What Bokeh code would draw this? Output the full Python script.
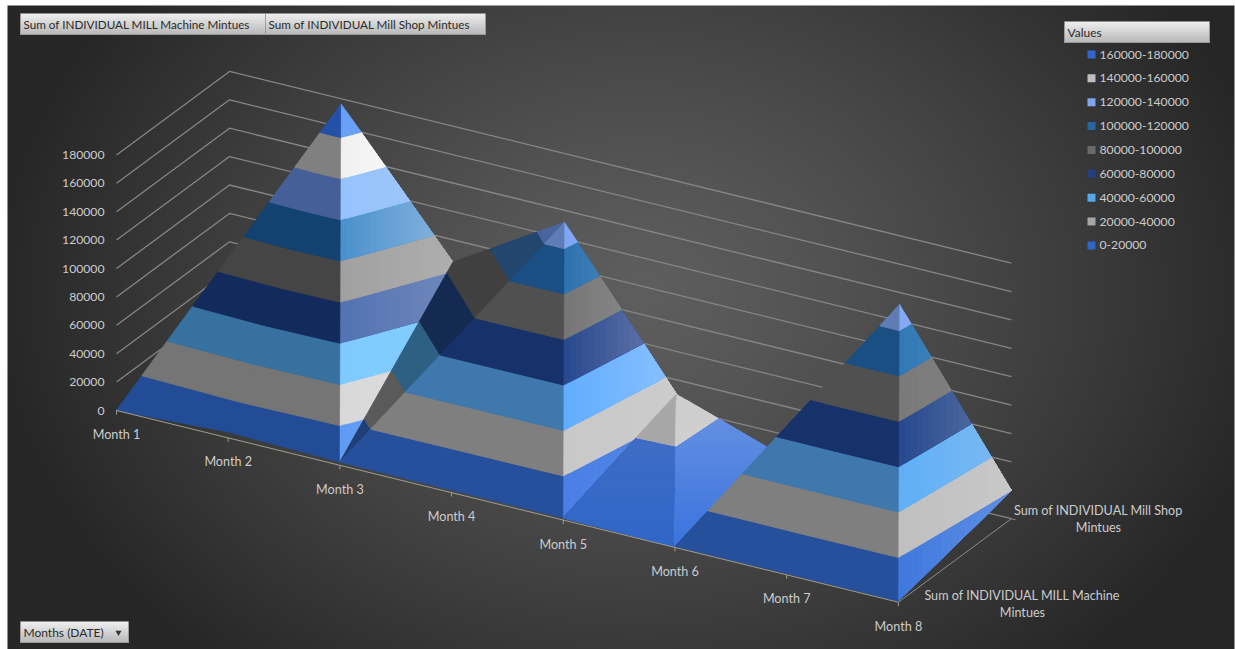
import numpy as np
from bokeh.core.properties import value
from bokeh.embed import file_html
from bokeh.models import Range1d
from bokeh.plotting import figure
from bokeh.resources import INLINE

# ---- data ----
months = ["Month 1", "Month 2", "Month 3", "Month 4", "Month 5", "Month 6", "Month 7", "Month 8"]
machine_minutes = [0, 4200, 2300, 1900, 1600, 700, 1000, 700]
shop_minutes = [0, 176300, 84200, 131600, 30000, 3000, 131500, 19800]
value_ticks = [0, 20000, 40000, 60000, 80000, 100000, 120000, 140000, 160000, 180000]
series_label_lines = {
    "machine": ["Sum of INDIVIDUAL MILL Machine", "Mintues"],
    "shop": ["Sum of INDIVIDUAL Mill Shop", "Mintues"],
}
legend_labels = ["160000-180000", "140000-160000", "120000-140000", "100000-120000", "80000-100000",
                 "60000-80000", "40000-60000", "20000-40000", "0-20000"]
legend_colors = ["#2F66C8", "#BEBEBE", "#7FA6EC", "#26659F", "#6A6A6A", "#22407F", "#55A8EA", "#A5A5A5", "#2F66C8"]

BAND = 20000
W, H = 1235, 649
FONT = value("Lato")
TEXT = "#CCCCCC"

# oblique projection of (month index, depth 0..1, minutes) to page pixels, y growing downward
ORIGIN = (116.0, 410.0)
MONTH_STEP = (111.7, 27.39)
DEPTH_STEP = (113.0, -83.5)
PX_PER_MINUTE = 28.4 / BAND


def project(m, d, v=0.0):
    return (ORIGIN[0] + MONTH_STEP[0] * m + DEPTH_STEP[0] * d,
            ORIGIN[1] + MONTH_STEP[1] * m + DEPTH_STEP[1] * d - v * PX_PER_MINUTE)


def fy(y):
    return H - np.asarray(y, dtype=float)


p = figure(width=W, height=H, output_backend="svg", toolbar_location=None,
           x_range=Range1d(0, W), y_range=Range1d(0, H), min_border=0,
           background_fill_color="white", border_fill_color="white")
p.axis.visible = False
p.grid.visible = False
p.outline_line_color = None

# ---- dark vignette backdrop ----
bx0, by0 = 7, 5
bw, bh = W - bx0 - 1, H - by0
yy, xx = np.mgrid[0:bh, 0:bw]
page_y = by0 + bh - 1 - yy
page_x = bx0 + xx
r = np.sqrt(((page_x - 640) / 650.0) ** 2 + ((page_y - 290) / 500.0) ** 2)
lum = 0x5E - (0x5E - 0x26) * np.clip(r, 0, 1) ** 1.25
lum = lum.astype(np.uint32)
img = (255 << 24) | (lum << 16) | (lum << 8) | lum
p.image_rgba(image=[img.astype(np.uint32)], x=bx0, y=0, dw=bw, dh=bh)

# ---- walls: gridlines from the left wall round to the back wall ----
wall_x, wall_y = [], []
for t in value_ticks:
    a = project(0, 0, t)
    b = project(0, 1, t)
    c = project(len(months) - 1, 1, t)
    wall_x.append([a[0], b[0], c[0]])
    wall_y.append(list(fy([a[1], b[1], c[1]])))
p.multi_line(wall_x, wall_y, line_color="#868686", line_width=1.3)

# ---- surface ----
LEFT_A = ["#234C96", "#757575", "#37719F", "#132B5C", "#454545", "#134270", "#455F99", "#808080", "#2450A8"]
LEFT_B = ["#26509B", "#7F7F7F", "#3F78AD", "#17316A", "#505050", "#1A4F83", "#5F7CB5", "#808080", "#2450A8"]
RIGHT_A = [("#5F9BF5", "#6AA2F8"), ("#D9D9D9", "#DCDCDC"), ("#7FCBFF", "#82CDFF"), ("#5272B2", "#7088BC"),
           ("#A0A0A0", "#AEAEAE"), ("#4A90CD", "#8AB6DF"), ("#96C3FC", "#A0C8F8"), ("#F0F0F0", "#FFFFFF"),
           ("#6AA0F5", "#6AA0F5")]
RIGHT_B = [("#4A80E6", "#5488E6"), ("#C8C8C8", "#CCCCCC"), ("#60AEFF", "#8AC0FF"), ("#27488E", "#7080AF"),
           ("#767676", "#929292"), ("#2D72AE", "#6298C8"), ("#7FA6F5", "#8CAEF8"), ("#C8C8C8", "#C8C8C8"),
           ("#6AA0F5", "#6AA0F5")]
RIGHT_C = [("#3F78DD", "#6090E4"), ("#C0C0C0", "#C8C8C8"), ("#60AFF7", "#7CBAF2"), ("#27488E", "#5E78A8"),
           ("#7A7A7A", "#858585"), ("#2F78B5", "#5C92C2"), ("#85AAF5", "#8CB0F8"), ("#C8C8C8", "#C8C8C8"),
           ("#6AA0F5", "#6AA0F5")]
SHADOW = ["#1F4076", "#5A5A5A", "#2E6084", "#152A50", "#404040", "#22466E", "#47659F", "#808080", "#2450A8"]
VALLEY_L = [("#4470C4", "#3066C8"), ("#A8A8A8", "#A8A8A8")] + [("#808080", "#808080")] * 7
VALLEY_R = [("#6A94E2", "#3B74DE"), ("#CFCFCF", "#CFCFCF")] + [("#808080", "#808080")] * 7

# triangles of the two-series grid, back to front: vertices are (series, month index)
faces = [
    ((("s", 0), ("m", 0), ("s", 1)), LEFT_A, None),
    ((("m", 0), ("m", 1), ("s", 1)), LEFT_A, None),
    ((("m", 1), ("m", 2), ("s", 1)), LEFT_A, None),
    ((("m", 2), ("s", 2), ("s", 1)), RIGHT_A, "x"),
    ((("m", 2), ("s", 3), ("s", 2)), SHADOW, None),
    ((("m", 2), ("m", 3), ("s", 3)), LEFT_B, None),
    ((("m", 3), ("m", 4), ("s", 3)), LEFT_B, None),
    ((("m", 4), ("s", 4), ("s", 3)), RIGHT_B, "x"),
    ((("m", 4), ("m", 5), ("s", 4)), VALLEY_L, "y"),
    ((("m", 5), ("s", 5), ("s", 4)), VALLEY_R, "y"),
    ((("m", 5), ("s", 6), ("s", 5)), LEFT_B, None),
    ((("m", 5), ("m", 6), ("s", 6)), LEFT_B, None),
    ((("m", 6), ("m", 7), ("s", 6)), LEFT_B, None),
    ((("m", 7), ("s", 7), ("s", 6)), RIGHT_C, "x"),
]


def vertex(ref):
    series, i = ref
    if series == "m":
        v = machine_minutes[i]
        x, y = project(i, 0, v)
    else:
        v = shop_minutes[i]
        x, y = project(i, 1, v)
    return (x, y, float(v))


def clip(poly, k, lo, hi):
    """Keep the part of a convex polygon with lo <= vertex[k] <= hi."""
    for bound, sign in ((lo, 1), (hi, -1)):
        out = []
        for a, b in zip(poly, poly[1:] + poly[:1]):
            da = sign * (a[k] - bound)
            db = sign * (b[k] - bound)
            if da >= 0:
                out.append(a)
            if da * db < 0:
                t = da / (da - db)
                out.append(tuple(a[j] + t * (b[j] - a[j]) for j in range(3)))
        poly = out
        if not poly:
            return []
    return poly


def mix(c0, c1, t):
    a = [int(c0[i:i + 2], 16) for i in (1, 3, 5)]
    b = [int(c1[i:i + 2], 16) for i in (1, 3, 5)]
    return "#%02X%02X%02X" % tuple(round(a[i] + t * (b[i] - a[i])) for i in range(3))


px, py, pc, pw = [], [], [], []


def emit(poly, color, width):
    if len(poly) >= 3:
        px.append([q[0] for q in poly])
        py.append(list(fy([q[1] for q in poly])))
        pc.append(color)
        pw.append(width)


for refs, palette, axis in faces:
    tri = [vertex(r) for r in refs]
    for band, colors in enumerate(palette):
        part = clip(tri, 2, band * BAND, (band + 1) * BAND)
        if not part:
            continue
        if axis is None:
            emit(part, colors, 1.0)
            continue
        k = 0 if axis == "x" else 1
        lo = min(q[k] for q in tri)
        hi = max(q[k] for q in tri)
        step = 6.0
        s = lo
        # each step repaints the rest of the band, so no seam shows between shades
        while s < hi:
            rest = clip(part, k, s, hi + 1)
            emit(rest, mix(colors[0], colors[1], (s + step / 2 - lo) / (hi - lo)), 0.4)
            s += step

p.patches(px, py, fill_color=pc, line_color=pc, line_width=pw)

# ---- axes drawn over the floor ----
n = len(months)
a0 = project(0, 0)
a1 = project(n - 1, 0)
b1 = project(n - 1, 1)
ax_x = [[a0[0], a1[0]]]
ax_y = [list(fy([a0[1], a1[1]]))]
for i in range(n):
    q = project(i, 0)
    ax_x.append([q[0], q[0]])
    ax_y.append(list(fy([q[1], q[1] + 4])))
p.multi_line(ax_x, ax_y, line_color="#A09E90", line_width=1.0)
p.multi_line([[a1[0], b1[0]], [b1[0], b1[0] + 4]], [list(fy([a1[1], b1[1]])), list(fy([b1[1], b1[1] + 1]))],
             line_color="#8C8C8C", line_width=1.0)

# ---- axis labels ----
LABEL = "12.6px"
DIGITS = "12.2px"
BUTTON = "11.7px"
p.text([project(i, 0)[0] for i in range(n)], fy([project(i, 0)[1] + 24 for i in range(n)]), text=months,
       text_font=FONT, text_font_size=LABEL, text_color=TEXT, text_align="center", text_baseline="middle")
p.text([104] * len(value_ticks), fy([project(0, 0, t)[1] for t in value_ticks]),
       text=[str(t) for t in value_ticks], text_font=FONT, text_font_size=DIGITS, text_color=TEXT,
       text_align="right", text_baseline="middle")

shop_anchor = project(n - 1, 1)
mach_anchor = project(n - 1, 0)
sx, sy, st = [], [], []
for j, line in enumerate(series_label_lines["shop"]):
    sx.append(shop_anchor[0] + 87)
    sy.append(shop_anchor[1] - 8 + 17 * j)
    st.append(line)
for j, line in enumerate(series_label_lines["machine"]):
    sx.append(mach_anchor[0] + 124)
    sy.append(mach_anchor[1] - 7 + 17 * j)
    st.append(line)
p.text(sx, fy(sy), text=st, text_font=FONT, text_font_size=LABEL, text_color=TEXT,
       text_align="center", text_baseline="middle")


# ---- pivot field buttons ----
def button(x0, y0, x1, y1, label, size=BUTTON):
    rows = 12
    edges = np.linspace(y0, y1, rows + 1)
    for i in range(rows):
        # top-down repaint keeps the shading free of seams
        c = mix("#EFEFEF", "#B8B8B8", (i + 0.5) / rows)
        p.quad(left=[x0], right=[x1], top=fy([edges[i]]), bottom=fy([y1]), fill_color=c, line_color=None)
    p.quad(left=[x0], right=[x1], top=fy([y0]), bottom=fy([y1]), fill_color=None, line_color="#8E8E8E", line_width=0.8)
    p.text([x0 + 3], fy([(y0 + y1) / 2]), text=[label], text_font=FONT, text_font_size=size,
           text_color="#2A2A2A", text_align="left", text_baseline="middle")


button(20, 13, 265, 34, "Sum of INDIVIDUAL MILL Machine Mintues")
button(265, 13, 485, 34, "Sum of INDIVIDUAL Mill Shop Mintues")
button(1064, 21, 1209, 42, "Values", "12px")
button(20, 621, 128, 642, "Months (DATE)", "12px")
p.scatter([118], fy([632]), marker="inverted_triangle", size=6, fill_color="#333333", line_color=None)

# ---- legend ----
ly = [54 + 23.87 * i for i in range(len(legend_labels))]
p.quad(left=1087, right=1095, top=fy([y - 4 for y in ly]), bottom=fy([y + 4 for y in ly]),
       fill_color=legend_colors, line_color=None)
p.text([1099] * len(ly), fy(ly), text=legend_labels, text_font=FONT, text_font_size=DIGITS, text_color=TEXT,
       text_align="left", text_baseline="middle")

open("out.html", "w").write(file_html(p, INLINE))
